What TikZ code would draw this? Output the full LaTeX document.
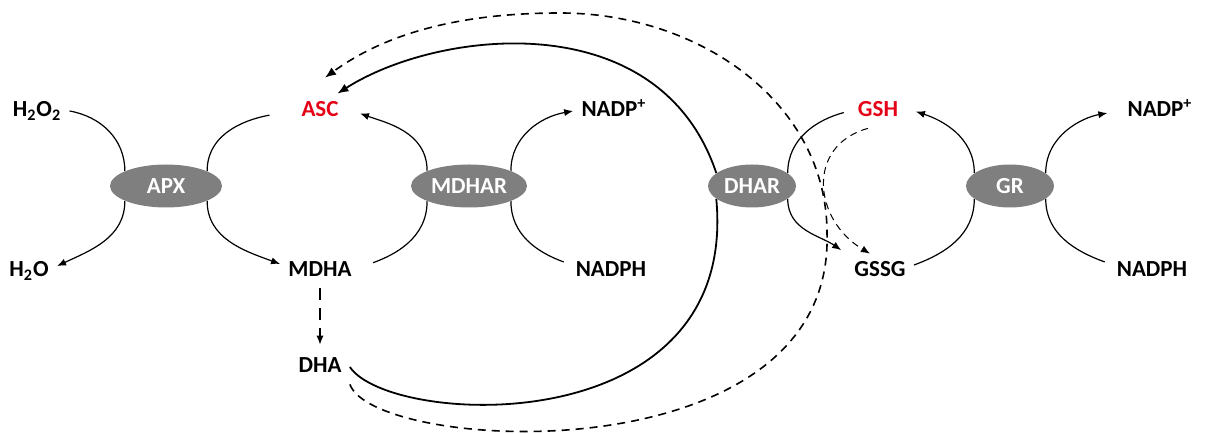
\documentclass[tikz,border=0pt]{standalone}
\usepackage{fontspec}
\setmainfont{Carlito}
\usepackage{tikz}
\usetikzlibrary{shapes.geometric}
\usetikzlibrary{arrows.meta}
\usetikzlibrary{backgrounds}
\definecolor{enzgray}{RGB}{127,127,127}
\definecolor{ascred}{RGB}{228,0,22}

\begin{document}
\begin{tikzpicture}[x=0.5pt,y=0.5pt,
  namenode/.style={font=\fontsize{11.5}{13}\selectfont\bfseries,anchor=base,
    text height=7.5pt,text depth=1.5pt,inner sep=4pt},
  rednode/.style={namenode,text=ascred},
  enzyme/.style={ellipse,fill=enzgray,text=white,inner sep=0pt,
    font=\fontsize{11.5}{13}\selectfont\bfseries,minimum height=21.5pt},
  thinarc/.style={line width=0.6pt},
  arrowed/.style={-{Latex[length=4.5pt,width=3.6pt]}},
  bigarrowed/.style={-{Latex[length=5.5pt,width=4.4pt]}},
  bigline/.style={line width=0.9pt},
  bigdash/.style={line width=0.8pt,dash pattern=on 4pt off 3pt},
  smalldash/.style={line width=0.5pt,dash pattern=on 3.5pt off 2.5pt},
  longdash/.style={line width=0.6pt,dash pattern=on 6pt off 4pt}]

\useasboundingbox (0,0) rectangle (1208,433);

% Enzymes
\node[enzyme,minimum width=56pt] (APX) at (166,247) {APX};
\node[enzyme,minimum width=58pt] (MDHAR) at (469,247) {MDHAR};
\node[enzyme,minimum width=44pt] (DHAR) at (752,247) {DHAR};
\node[enzyme,minimum width=44pt] (GR) at (1010,247) {GR};

% Top row (baseline 316)
\node[namenode] (H2O2) at (37,316) {H\textsubscript{2}O\textsubscript{2}};
\node[rednode] (ASC) at (320,316) {ASC};
\node[namenode] (NADPa) at (614,316) {NADP\textsuperscript{+}};
\node[rednode] (GSH) at (878,316) {GSH};
\node[namenode] (NADPb) at (1160,316) {NADP\textsuperscript{+}};

% Bottom row (baseline 156)
\node[namenode] (H2O) at (29,156) {H\textsubscript{2}O};
\node[namenode] (MDHA) at (320,156) {MDHA};
\node[namenode] (NADPHa) at (611,156) {NADPH};
\node[namenode] (GSSG) at (880,156) {GSSG};
\node[namenode] (NADPHb) at (1152,156) {NADPH};

% DHA
\node[namenode] (DHA) at (320,60) {DHA};

% way points of the dashed loop
\coordinate (LoopRight) at (827,200);
\coordinate (LoopTop) at (560,420);

\begin{scope}[on background layer]
  % APX
  \draw[thinarc] (H2O2.east) to[out=-10,in=90] (APX.160);
  \draw[thinarc,arrowed] (APX.200) to[out=-90,in=25] (H2O.10);
  \draw[thinarc,shorten <=12pt] (ASC.west) to[out=190,in=90] (APX.20);
  \draw[thinarc,arrowed] (APX.-20) to[out=-90,in=160] (MDHA.170);

  % MDHAR
  \draw[thinarc,arrowed,shorten >=7pt] (MDHAR.160) to[out=90,in=-20] (ASC.5);
  \draw[thinarc,shorten <=7pt] (MDHA.5) to[out=20,in=-90] (MDHAR.200);
  \draw[thinarc,arrowed] (MDHAR.20) to[out=90,in=190] (NADPa.west);
  \draw[thinarc,shorten <=2pt] (NADPHa.170) to[out=160,in=-90] (MDHAR.-20);

  % MDHA -> DHA
  \draw[longdash,arrowed,shorten >=2.5pt] (MDHA.south) -- (DHA.north);

  % DHAR
  \draw[bigline] (DHA.east) .. controls +(40,-60) and +(23,-245) .. (DHAR.200);
  \draw[bigline,bigarrowed] (DHAR.160) .. controls +(-57,170) and +(100,64) .. (ASC.45);
  \draw[thinarc,shorten <=3pt] (GSH.west) to[out=195,in=90] (DHAR.20);
  \draw[thinarc,arrowed,shorten >=3pt] (DHAR.-20) to[out=-90,in=145] (GSSG.north west);
  \draw[smalldash,arrowed] (GSH.-120) .. controls +(-62,-17) and +(-57,34) .. (GSSG.120);

  % dashed loop DHA -> ASC
  \draw[bigdash,bigarrowed] (DHA.south east) .. controls +(25,-69) and +(8,-245) .. (LoopRight)
    .. controls +(0,130) and +(140,0) .. (LoopTop)
    .. controls +(-110,0) and +(55,40) .. ([shift={(5,16)}]ASC.north);

  % GR
  \draw[thinarc,arrowed,shorten >=5pt] (GR.160) to[out=90,in=-18] (GSH.5);
  \draw[thinarc] (GSSG.10) to[out=20,in=-90] (GR.200);
  \draw[thinarc,arrowed,shorten >=6pt] (GR.20) to[out=90,in=190] (NADPb.west);
  \draw[thinarc,shorten <=2pt] (NADPHb.170) to[out=160,in=-90] (GR.-20);
\end{scope}

\end{tikzpicture}
\end{document}
